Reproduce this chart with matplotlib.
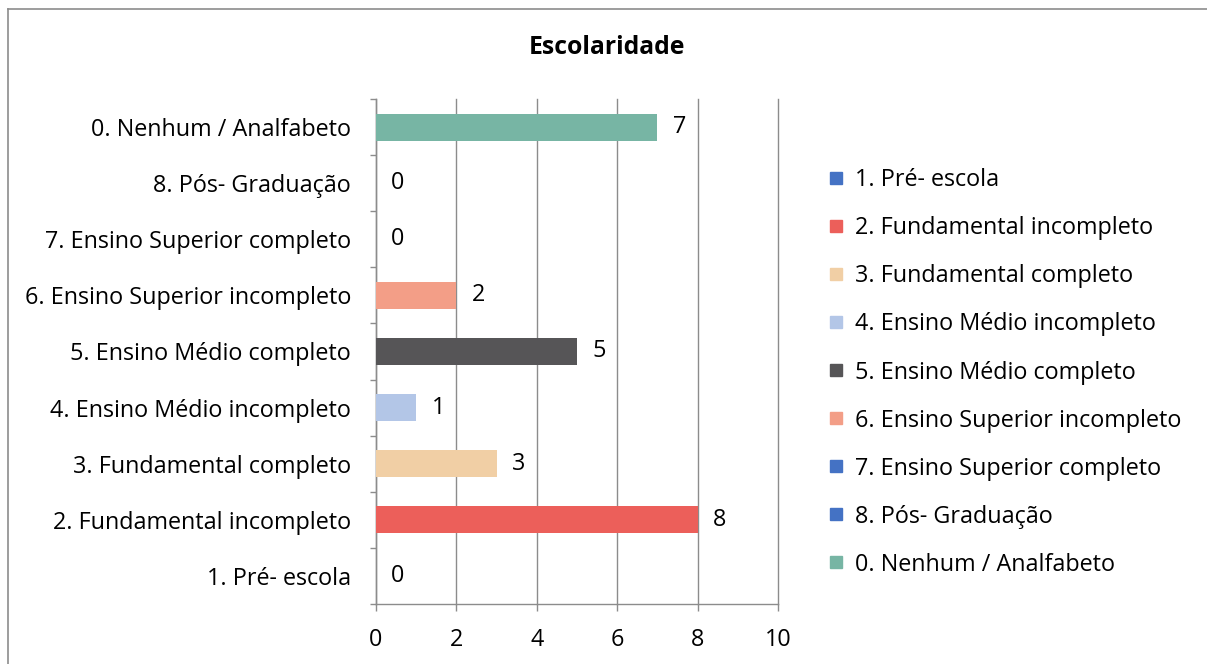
import matplotlib.pyplot as plt
from matplotlib.lines import Line2D

plt.rcParams['font.family'] = ['Open Sans', 'DejaVu Sans']

# Data (bottom to top, as in the chart)
categories = [
    "1. Pré- escola",
    "2. Fundamental incompleto",
    "3. Fundamental completo",
    "4. Ensino Médio incompleto",
    "5. Ensino Médio completo",
    "6. Ensino Superior incompleto",
    "7. Ensino Superior completo",
    "8. Pós- Graduação",
    "0. Nenhum / Analfabeto",
]
values = [0, 8, 3, 1, 5, 2, 0, 0, 7]
colors = ["#4472C4", "#EC5F5A", "#F1CFA5", "#B3C6E7", "#565557",
          "#F39E87", "#4472C4", "#4472C4", "#77B5A4"]

grid_color = "#8C8C8C"
fs = 16.8

fig = plt.figure(figsize=(12.07, 6.64), dpi=100)
ax = fig.add_axes([0.3115, 0.0904, 0.3331, 0.7605])

ypos = list(range(len(categories)))
ax.barh(ypos, values, height=0.48, color=colors, zorder=3)

# data labels
for y, v in zip(ypos, values):
    ax.annotate(str(v), xy=(v, y), xytext=(11, 0), textcoords="offset points",
                ha="left", va="center", fontsize=fs, color="black")

ax.set_xlim(0, 10)
ax.set_ylim(-0.5, len(categories) - 0.5)
ax.set_xticks([0, 2, 4, 6, 8, 10])
ax.set_yticks(ypos)
ax.set_yticklabels(categories)
ax.set_yticks([y - 0.5 for y in range(len(categories) + 1)], minor=True)

ax.tick_params(axis="y", which="major", length=0, pad=18, labelsize=fs)
ax.tick_params(axis="y", which="minor", length=4, color=grid_color, width=1)
ax.tick_params(axis="x", which="major", length=5, color=grid_color, width=1,
               pad=12, labelsize=fs)

ax.grid(axis="x", color=grid_color, linewidth=1, zorder=0)
for gl in ax.get_xgridlines():
    gl.set_clip_on(False)
for s in ["top", "right"]:
    ax.spines[s].set_visible(False)
for s in ["left", "bottom"]:
    ax.spines[s].set_color(grid_color)
    ax.spines[s].set_linewidth(1)

fig.text(0.503, 0.928, "Escolaridade", ha="center", va="center",
         fontsize=17.8, fontweight="bold")

# legend
handles = [Line2D([], [], marker="s", linestyle="", markersize=8,
                  markerfacecolor=c, markeredgecolor=c) for c in colors]
fig.legend(handles, categories, loc="center left",
           bbox_to_anchor=(0.687, 0.439), frameon=False, fontsize=fs,
           labelspacing=1.03, handlelength=0.6, handletextpad=0.5,
           borderpad=0, borderaxespad=0)

# chart area border (top and left visible)
fig.add_artist(Line2D([8 / 1207, 1], [1 - 9 / 664, 1 - 9 / 664],
                      color="#8C8C8C", linewidth=1.2, transform=fig.transFigure))
fig.add_artist(Line2D([8 / 1207, 8 / 1207], [0, 1 - 9 / 664],
                      color="#8C8C8C", linewidth=1.2, transform=fig.transFigure))

fig.savefig("out.png", dpi=100)
